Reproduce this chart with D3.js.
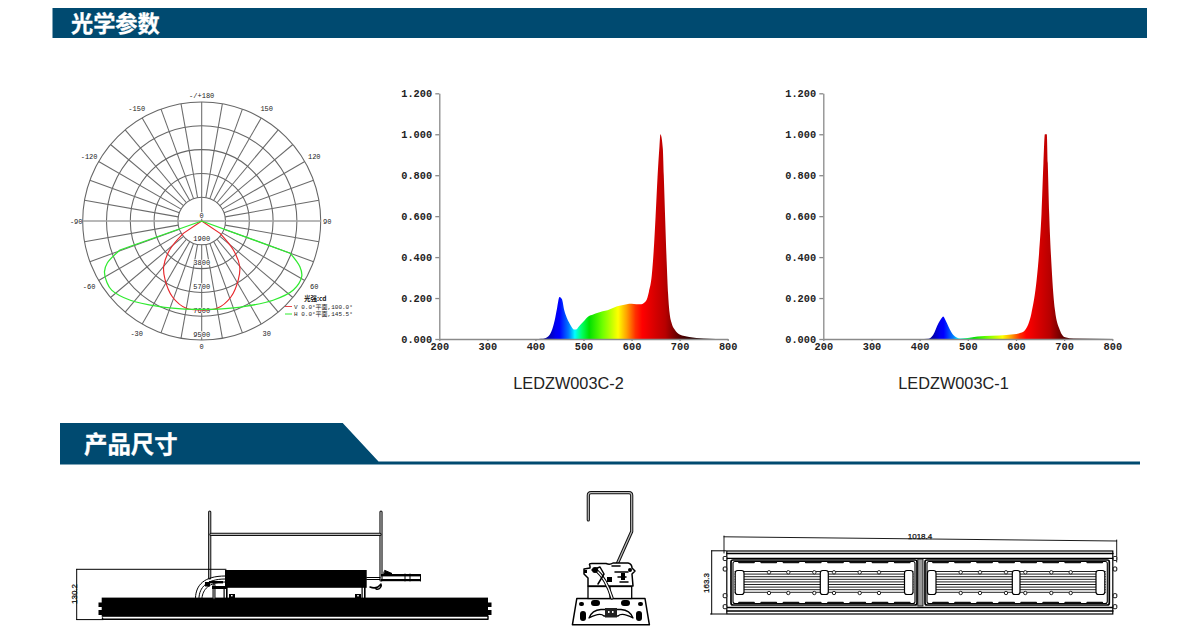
<!DOCTYPE html>
<html><head><meta charset="utf-8">
<script src="https://cdn.jsdelivr.net/npm/d3@7"></script>
<style>html,body{margin:0;padding:0;background:#fff}svg{display:block}</style>
</head><body><svg id="c" width="1200" height="630" xmlns="http://www.w3.org/2000/svg"></svg>
<script>
// ---------- data ----------
const sectionTitles = ["光学参数", "产品尺寸"];
const polarRingValues = [1900, 3800, 5700, 7600, 9500];
const polarAngleLabels = [[0,"0"],[30,"30"],[60,"60"],[90,"90"],[120,"120"],[150,"150"],[180,"-/+180"],[-150,"-150"],[-120,"-120"],[-90,"-90"],[-60,"-60"],[-30,"-30"]];
const redAngles = [-60,-56,-48,-40,-32,-21,-10,0,10,21,32,40,47.5,56,60];
const redCd     = [0,1770,3430,4720,5520,6500,7080,7100,7080,6500,5520,4720,3430,1770,0];
const greenAngles = [-72,-70.5,-66,-62.5,-57,-52.5,-42,-26,-13,0,13,26,42,53,61,65,70,72];
const greenCd     = [0,6920,8250,8750,9020,9060,8515,7610,7200,7050,7200,7610,8515,9160,9130,8650,7510,0];
const legendTitle = "光强:cd";
const legendRows = ["V 0.0°平面,100.0°", "H 0.0°平面,145.5°"];
const wlTicks = [200,300,400,500,600,700,800];
const relTicks = [0,0.2,0.4,0.6,0.8,1.0,1.2];
const chartNames = ["LEDZW003C-2","LEDZW003C-1"];
const wlA = [200,400,412,420,430,440,445,450,455,460,465,470,475,480,485,490,500,510,520,530,540,550,560,570,580,590,600,610,620,630,636,642,646,650,654,658,660,665,667,670,673,676,679,683,690,700,720,750,800];
const specA = [0,0,0.001,0.004,0.022,0.09,0.15,0.205,0.195,0.14,0.105,0.08,0.06,0.047,0.047,0.06,0.085,0.11,0.12,0.128,0.135,0.14,0.15,0.16,0.165,0.17,0.172,0.17,0.17,0.185,0.23,0.31,0.43,0.6,0.79,0.94,1.0,0.93,0.8,0.58,0.38,0.22,0.13,0.08,0.045,0.022,0.01,0.003,0];
const wlB = [200,400,418,428,439,445,449,454,460,470,484,500,520,550,580,601,610,619,632,643,648,653,657,660,664,666,669,674,681,691,702,720,800];
const specB = [0,0,0.001,0.02,0.077,0.1,0.11,0.09,0.06,0.02,0.003,0.005,0.012,0.016,0.02,0.024,0.03,0.044,0.125,0.29,0.42,0.61,0.86,1.0,1.0,0.86,0.61,0.35,0.14,0.044,0.008,0.002,0];
const gradWl = [400,425,442,450,470,482,497,512,540,572,590,608,622,650,670,685,700,720,780];
const gradColor = ["#000040","#0000a0","#0000f0","#0000ff","#0080ff","#00ffff","#00ff60","#00e000","#70ff00","#ffff00","#ffa000","#ff3000","#ff0000","#d40000","#b80000","#880000","#580000","#300000","#000000"];
const dimLabels = ["130.2","1018.4","163.3"];

const svg = d3.select("#c");
const NAVY = "#004a70";
const defs = svg.append("defs");

// ---------- section headers ----------
svg.append("rect").attr("x",52.5).attr("y",8).attr("width",1094.5).attr("height",30).attr("fill",NAVY);
svg.append("text").attr("x",71).attr("y",31.5).attr("fill","#fff").attr("stroke","#fff").attr("stroke-width",0.3).attr("font-family","Noto Sans CJK SC").attr("font-weight",700).attr("font-size",22.2).text(sectionTitles[0]);
svg.append("path").attr("d","M60 423H342.7L378.5 461.5H1140V464.5H60Z").attr("fill",NAVY);
svg.append("text").attr("x",84).attr("y",452.5).attr("fill","#fff").attr("stroke","#fff").attr("stroke-width",0.3).attr("font-family","Noto Sans CJK SC").attr("font-weight",700).attr("font-size",23.4).text(sectionTitles[1]);

// ---------- polar chart ----------
(function(){
  const cx=201.7, cy=221;
  const r = d3.scaleLinear().domain([0,9500]).range([0,119]);
  const toRad = a => (180-a)*Math.PI/180;   // gamma 0 at the bottom, +90 to the right
  const g = svg.append("g").attr("transform",`translate(${cx},${cy})`);
  polarRingValues.forEach(v=>g.append("circle").attr("r",r(v)).attr("fill","none").attr("stroke","#666").attr("stroke-width",1.05));
  d3.range(-170,181,10).forEach(a=>{
    if (a===90||a===-90) return;
    const t=toRad(a), s=(a===180)?0:r(polarRingValues[0]), e=r(9500);
    g.append("line").attr("x1",s*Math.sin(t)).attr("y1",-s*Math.cos(t)).attr("x2",e*Math.sin(t)).attr("y2",-e*Math.cos(t)).attr("stroke","#6a6a6a").attr("stroke-width",1.05);
  });
  g.append("line").attr("x1",-r(9500)).attr("x2",r(9500)).attr("stroke","#a0a0a0").attr("stroke-width",1.6);
  const font = "'Liberation Mono','DejaVu Sans Mono'";
  polarAngleLabels.forEach(([a,t])=>{
    const rr = (a%90===0) ? 125.5 : 130, rad=toRad(a);
    g.append("text").attr("x",rr*Math.sin(rad)).attr("y",-rr*Math.cos(rad)).attr("dy","0.36em").attr("text-anchor","middle").attr("font-family",font).attr("font-size",7).attr("fill","#222").text(t);
  });
  [0].concat(polarRingValues).forEach(v=>{
    g.append("text").attr("x",0).attr("y",r(v)-6).attr("dy","0.36em").attr("text-anchor","middle").attr("font-family",font).attr("font-size",7).attr("fill","#222").attr("stroke","#fff").attr("stroke-width",1.5).attr("paint-order","stroke").text(v);
  });
  const curve = d3.lineRadial().curve(d3.curveCatmullRom.alpha(0.5)).angle(d=>toRad(d[0])).radius(d=>r(d[1]));
  const straightEnds = (ang,val)=>{
    const pts = d3.zip(ang,val);
    const inner = pts.slice(1,-1);
    return "M0,0L"+curve(inner).slice(1)+"L0,0";
  };
  g.append("path").attr("d",straightEnds(redAngles,redCd)).attr("fill","none").attr("stroke","#e8252a").attr("stroke-width",1.15);
  g.append("path").attr("d",straightEnds(greenAngles,greenCd)).attr("fill","none").attr("stroke","#30ea30").attr("stroke-width",1.25);
  const lg = svg.append("g");
  lg.append("text").attr("x",304).attr("y",300.5).attr("font-family","'Noto Sans CJK SC'").attr("font-size",6.5).attr("font-weight",700).attr("fill","#111").text(legendTitle);
  [["#e8454a",306.5],["#30ea30",314]].forEach(([c,y],i)=>{
    lg.append("line").attr("x1",285).attr("x2",292).attr("y1",y).attr("y2",y).attr("stroke",c).attr("stroke-width",1);
    lg.append("text").attr("x",294).attr("y",y+2).attr("font-family","'Liberation Mono','Noto Sans CJK SC'").attr("font-size",6).attr("fill","#222").text(legendRows[i]);
  });
})();

// ---------- spectra ----------
function spectrum(x0,x1,wl,vals,name,id,labelX){
  const y0=339, y1=93.3;
  const x=d3.scaleLinear().domain([200,800]).range([x0,x1]);
  const y=d3.scaleLinear().domain([0,1.2]).range([y0,y1]);
  const grad=defs.append("linearGradient").attr("id",id).attr("gradientUnits","userSpaceOnUse").attr("x1",x(200)).attr("x2",x(800)).attr("y1",0).attr("y2",0);
  gradWl.forEach((w,i)=>grad.append("stop").attr("offset",(w-200)/600).attr("stop-color",gradColor[i]));
  const area=d3.area().curve(d3.curveMonotoneX).x(d=>x(d[0])).y0(y0).y1(d=>y(d[1]));
  svg.append("path").attr("d",area(d3.zip(wl,vals))).attr("fill",`url(#${id})`);
  const style=(g)=>{
    g.selectAll(".domain,line").attr("stroke","#8a8a8a").attr("stroke-width",1.3);
    g.selectAll("text").attr("font-family","'Liberation Mono','DejaVu Sans Mono'").attr("font-weight",700).attr("font-size",10.3).attr("fill","#222");
  };
  svg.append("g").attr("transform",`translate(0,${y0})`).call(d3.axisBottom(x).tickValues(wlTicks).tickSize(2).tickPadding(1.5).tickSizeOuter(0).tickFormat(d3.format("d"))).call(style);
  svg.append("g").attr("transform",`translate(${x0},0)`).call(d3.axisLeft(y).tickValues(relTicks).tickSize(4).tickPadding(3.2).tickSizeOuter(0).tickFormat(d3.format(".3f"))).call(style);
  svg.append("text").attr("x",labelX).attr("y",389).attr("text-anchor","middle").attr("font-family","'Liberation Sans'").attr("font-size",16.3).attr("fill","#222").text(name);
}
spectrum(439.3,727.7,wlA,specA,chartNames[0],"gA",568.5);
spectrum(823.3,1112.3,wlB,specB,chartNames[1],"gB",953.5);

// ---------- product drawings (schematic line art, not data) ----------
const art=svg.append("g");
const R=(x,y,w,h,o={})=>art.append("rect").attr("x",x).attr("y",y).attr("width",w).attr("height",h).attr("rx",o.rx||0).attr("fill",o.fill||"#000").attr("stroke",o.stroke||"none").attr("stroke-width",o.sw||0);
const P=(d,sw=0.8,c="#000",f="none")=>art.append("path").attr("d",d).attr("fill",f).attr("stroke",c).attr("stroke-width",sw).attr("stroke-linecap","round").attr("stroke-linejoin","round");
const tube=(d,w)=>{P(d,w,"#111");P(d,w-2,"#bbb");};
const dimText=(x,y,t,rot)=>art.append("text").attr("transform",`translate(${x},${y})${rot?" rotate(-90)":""}`).attr("text-anchor","middle").attr("font-family","'Liberation Sans'").attr("font-size",8).attr("fill","#111").attr("stroke","#111").attr("stroke-width",0.25).text(t);

// side view
tube("M209.7 512V578",3.2); tube("M381 512V580",3.2); tube("M211 534.4H380",3.2);
P("M76.7 569.3H226M76.7 569.3V619.6M76.7 619.6H103",1);
dimText(77,594,dimLabels[0],true);
R(101.7,597.6,386.3,19.2);
R(98.5,602.5,4,4.5);R(98.5,610,4,5);R(487.5,602.5,4,4.5);R(487.5,610,4,5);
P("M102.5 617.9V619.3H488V616",1.4);
R(225,570,141.7,17.8);
R(226,587,1.6,11);R(223.5,587,1.2,11);R(364,587,1.6,11);R(361.5,587,1.2,11);
P("M195.5 597.5C196 585 204 576 225 576",1);P("M199 597.5C199.5 588 206 579 225 579",1);P("M202 597.5C203 590 208 582 225 582",1);
tube("M214 585V598",3);
R(209,581,14,2.4);R(212,586,14,3);R(205,582,5,4.5);
R(229,594,6,4.5);R(355,594,6,4.5);
art.append("rect").attr("x",231).attr("y",595).attr("width",1.6).attr("height",1.4).attr("fill","#fff");
art.append("rect").attr("x",357.2).attr("y",595).attr("width",1.6).attr("height",1.4).attr("fill","#fff");
P("M366.7 577.5H380M366.7 579.5H380",1.2);
R(381,574,39.5,2.4);R(381,579,39.5,2.2);
P("M420.5 574.5V581M405 574V581M410 574V581",1);
P("M385 570.5L392 573.5H384Z",1,"#000","#000");
P("M370 587C375 589 378 588 381 584C382 586 380 590 376 589",1.5);

// end view
tube("M588.3 520V495.5Q588.3 492.6 591 492.6H629Q631.7 492.6 631.7 495.5V531.5L610 580",3.2);
P("M576.8 598.5H645L649.4 624.8H572.4Z",1.5);
R(588,586.5,43.7,12,{fill:"#fff",stroke:"#000",sw:1.3});
P("M610 586.5V598.5",1.2);
P("M590 566Q588 563 593 563.5H606Q610 565 613 563H628Q632 564 632 568L635 571L632 574L633 586H588L588 578L584 574L584 569L590 568Z",1.5,"#000","#fff");
P("M596 570C602 575 608 585 612 598",3.4);P("M596 570C602 575 608 585 612 598",1.3,"#fff");
P("M592 570L600 567L604 574L598 584",1.5);P("M615 572H628M618 577H626M620 582H628M612 566H620",1.5);
R(592,567,6,6,{rx:3});R(621,573,4,7);R(607,577,5,5);R(628,568,4,4,{rx:2});R(584,570,3,3);
R(579,602,5,4,{rx:2});R(638,602,5,4,{rx:2});R(591,600,9,6,{rx:3});R(621,600,9,6,{rx:3});
R(580,611,6,10,{rx:3});R(636,611,6,10,{rx:3});
P("M589 618Q592 610 601 609.5H621Q630 610 633 618Q622 612 618 616H604Q600 612 589 618Z",1.3);
R(605,608,12,9.5,{fill:"#222"});
R(608,611,1.5,2,{fill:"#fff"});R(612,611,1.5,2,{fill:"#fff"});

// top view
P("M724 536.8L1116.7 541M724 536V553M1116.7 540V562",0.9);
dimText(920,539,dimLabels[1],false);
P("M711.7 550.8V614M711.5 550.8H726M710.5 614H726",1);
dimText(708.5,583,dimLabels[2],true);
R(726.8,551,386,63,{fill:"#fff",stroke:"#000",sw:1.2});
P("M727 553.5H1113M727 558.3H1113",1.3);
P("M727 607.5H1113M727 611H1113",1.3);
[[731,186],[925,184.3]].forEach(([px,pw],pi)=>{
  R(px,560,pw,45,{rx:2,fill:"#fff",stroke:"#000",sw:1.7});
  R(px+2,561.5,pw-4,42,{rx:2,fill:"#fff",stroke:"#000",sw:1.1});
  d3.range(571.5,594,2.6).forEach(y=>P(`M${px+4} ${y}H${px+pw-4}`,1,"#222"));
  d3.range(0,8).forEach(i=>{
    const dx=px+4+i*(pw-8)/8;
    P(`M${dx+4} 562.3H${dx+19}`,1.8,"#111");P(`M${dx+4} 602.6H${dx+19}`,1.8,"#111");
  });
  const holes = pi===0?[769,788.3,814.3,834,859.7,879]:[960.7,980,1006,1025.3,1051.3,1070.7];
  holes.forEach(h=>[572.3,593].forEach(y=>art.append("circle").attr("cx",h).attr("cy",y).attr("r",1.7).attr("fill","#fff").attr("stroke","#222").attr("stroke-width",1)));
  const slots = pi===0?[[735.2,8.8],[820.3,8],[904.5,8.5]]:[[927.5,8.5],[1012.3,7.7],[1096,8.8]];
  slots.forEach(([sx,sw])=>R(sx,570.5,sw,24,{rx:2.5,fill:"#fff",stroke:"#000",sw:1.2}));
});
R(917.8,559,5.2,47,{fill:"#999",stroke:"#000",sw:0.8});
[558.5,569,595.7,606.7].forEach(y=>[725,1115].forEach(x=>R(x-1.8,y-2,3.6,4,{rx:1,fill:"#fff",stroke:"#000",sw:1})));
</script></body></html>
